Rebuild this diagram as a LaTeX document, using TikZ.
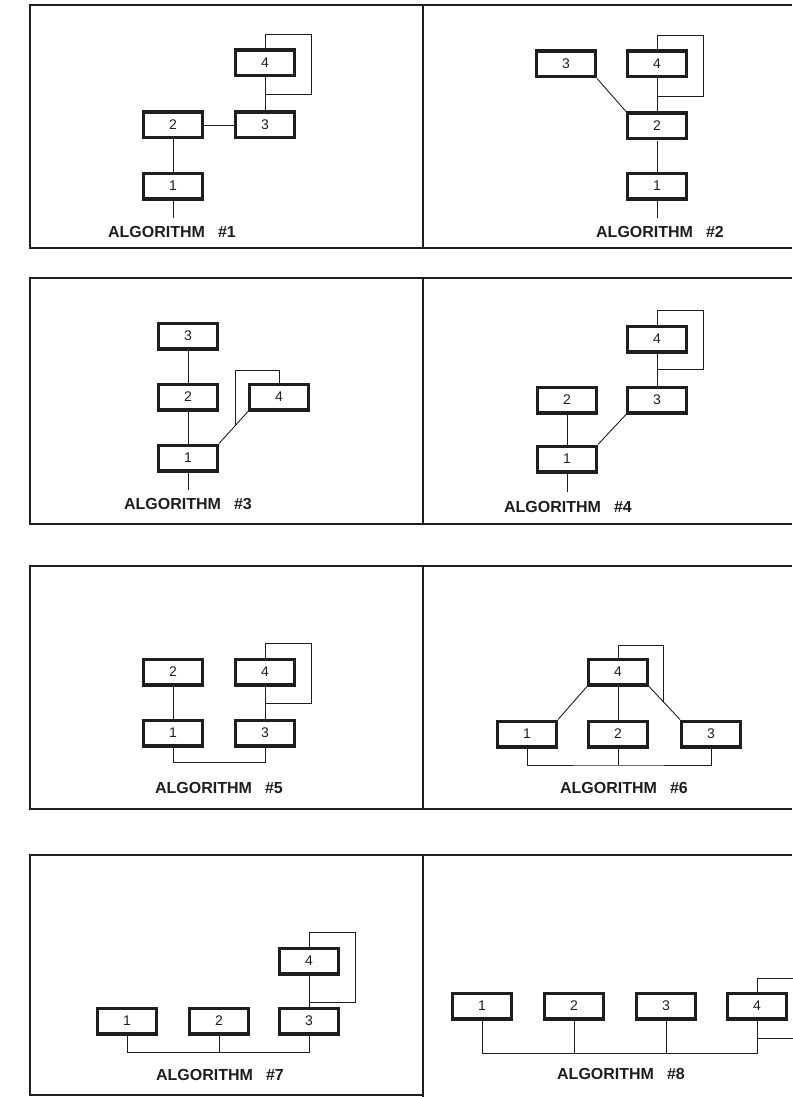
\documentclass[tikz,border=0pt]{standalone}
\usepackage{fontspec}
\setmainfont{Liberation Sans}
\usetikzlibrary{calc}
\definecolor{ink}{HTML}{1E1E1E}
\tikzset{
  op/.style={draw=ink, line width=3.4pt, minimum width=58.6pt, minimum height=25.6pt,
    inner sep=0pt, text=ink, font=\fontsize{14}{16}\selectfont},
  link/.style={draw=ink, line width=0.9pt},
  frame/.style={draw=ink, line width=1.1pt},
  algname/.style={text=ink, font=\fontsize{16}{18}\selectfont\bfseries},
}
\newcommand{\algo}[1]{ALGORITHM\hspace{13pt}\##1}

\begin{document}
\begin{tikzpicture}[x=1pt, y=-1pt]
    \useasboundingbox (0,0) rectangle (792,1097);
    % panel frames
    \draw[frame] (792,5) -- (30,5) -- (30,248) -- (792,248);
    \draw[frame] (423,5) -- (423,248);
    \draw[frame] (792,278) -- (30,278) -- (30,524) -- (792,524);
    \draw[frame] (423,278) -- (423,524);
    \draw[frame] (792,566) -- (30,566) -- (30,809) -- (792,809);
    \draw[frame] (423,566) -- (423,809);
    \draw[frame] (792,855) -- (30,855) -- (30,1095) -- (423,1095);
    \draw[frame] (423,855) -- (423,1097);
    % algorithm 1
    \node[op] (a1-4) at (265,63) {4};
    \node[op] (a1-3) at (265,125) {3};
    \node[op] (a1-2) at (173,125) {2};
    \node[op] (a1-1) at (173,186) {1};
    \coordinate (a1-out) at (173,218);
    \draw[link] (a1-2) -- (a1-3);
    \draw[link] (a1-4) -- (a1-3);
    \draw[link] (a1-2) -- (a1-1);
    \draw[link] (a1-1) -- (a1-out);
    \draw[link] (a1-4.north) -- ++(0,-14) -| ++(46,60) -- ++(-46,0);
    \node[algname] (a1-name) at (172,232) {\algo{1}};
    % algorithm 2
    \node[op] (a2-4) at (657,64) {4};
    \node[op] (a2-3) at (566,64) {3};
    \node[op] (a2-2) at (657,126) {2};
    \node[op] (a2-1) at (657,186) {1};
    \coordinate (a2-out) at (657,218);
    \draw[link] (a2-3.south east) -- (a2-2.north west);
    \draw[link] (a2-4) -- (a2-2);
    \draw[link] (a2-2) -- (a2-1);
    \draw[link] (a2-1) -- (a2-out);
    \draw[link] (a2-4.north) -- ++(0,-14) -| ++(46,61) -- ++(-46,0);
    \node[algname] (a2-name) at (660,232) {\algo{2}};
    % algorithm 3
    \node[op] (a3-3) at (188,336) {3};
    \node[op] (a3-2) at (188,397) {2};
    \node[op] (a3-4) at (279,397) {4};
    \node[op] (a3-1) at (188,458) {1};
    \coordinate (a3-out) at (188,490);
    \coordinate (a3-j) at ($(a3-4.south west)!0.45!(a3-1.north east)$);
    \draw[link] (a3-3) -- (a3-2);
    \draw[link] (a3-2) -- (a3-1);
    \draw[link] (a3-4.south west) -- (a3-1.north east);
    \draw[link] (a3-1) -- (a3-out);
    \draw[link] (a3-4.north) -- ++(0,-12) -| (a3-j);
    \node[algname] (a3-name) at (188,504) {\algo{3}};
    % algorithm 4
    \node[op] (a4-4) at (657,339) {4};
    \node[op] (a4-3) at (657,400) {3};
    \node[op] (a4-2) at (567,400) {2};
    \node[op] (a4-1) at (567,459) {1};
    \coordinate (a4-out) at (567,492);
    \draw[link] (a4-4) -- (a4-3);
    \draw[link] (a4-2) -- (a4-1);
    \draw[link] (a4-3.south west) -- (a4-1.north east);
    \draw[link] (a4-1) -- (a4-out);
    \draw[link] (a4-4.north) -- ++(0,-14) -| ++(46,59) -- ++(-46,0);
    \node[algname] (a4-name) at (568,507) {\algo{4}};
    % algorithm 5
    \node[op] (a5-2) at (173,672) {2};
    \node[op] (a5-4) at (265,672) {4};
    \node[op] (a5-1) at (173,733) {1};
    \node[op] (a5-3) at (265,733) {3};
    \draw[link] (a5-2) -- (a5-1);
    \draw[link] (a5-4) -- (a5-3);
    \draw[link] (a5-4.north) -- ++(0,-14) -| ++(46,60) -- ++(-46,0);
    \draw[link] (a5-1.south) -- ++(0,15) -| (a5-3.south);
    \node[algname] (a5-name) at (219,788) {\algo{5}};
    % algorithm 6
    \node[op] (a6-4) at (618,672) {4};
    \node[op] (a6-1) at (527,734) {1};
    \node[op] (a6-2) at (618,734) {2};
    \node[op] (a6-3) at (711,734) {3};
    \coordinate (a6-bus) at (618,765);
    \coordinate (a6-j) at ($(a6-4.south east)!0.48!(a6-3.north west)$);
    \draw[link] (a6-4.south west) -- (a6-1.north east);
    \draw[link] (a6-4) -- (a6-2);
    \draw[link] (a6-4.south east) -- (a6-3.north west);
    \draw[link] (a6-4.north) -- ++(0,-12) -| (a6-j);
    \draw[link] (a6-1.south) |- (a6-bus) -| (a6-3.south);
    \draw[link] (a6-2) -- (a6-bus);
    \node[algname] (a6-name) at (624,788) {\algo{6}};
    % algorithm 7
    \node[op] (a7-4) at (309,961) {4};
    \node[op] (a7-1) at (127,1021) {1};
    \node[op] (a7-2) at (219,1021) {2};
    \node[op] (a7-3) at (309,1021) {3};
    \coordinate (a7-bus) at (219,1052);
    \draw[link] (a7-4) -- (a7-3);
    \draw[link] (a7-4.north) -- ++(0,-14) -| ++(46,70) -- ++(-46,0);
    \draw[link] (a7-1.south) |- (a7-bus) -| (a7-3.south);
    \draw[link] (a7-2) -- (a7-bus);
    \node[algname] (a7-name) at (220,1075) {\algo{7}};
    % algorithm 8
    \node[op] (a8-1) at (482,1006) {1};
    \node[op] (a8-2) at (574,1006) {2};
    \node[op] (a8-3) at (666,1006) {3};
    \node[op] (a8-4) at (757,1006) {4};
    \coordinate (a8-bus) at (619,1053);
    \draw[link] (a8-4.north) -- ++(0,-13) -| ++(46,60) -- ++(-46,0);
    \draw[link] (a8-1.south) |- (a8-bus) -| (a8-4.south);
    \draw[link] (a8-2) -- (a8-2 |- a8-bus);
    \draw[link] (a8-3) -- (a8-3 |- a8-bus);
    \node[algname] (a8-name) at (621,1074) {\algo{8}};
\end{tikzpicture}
\end{document}
